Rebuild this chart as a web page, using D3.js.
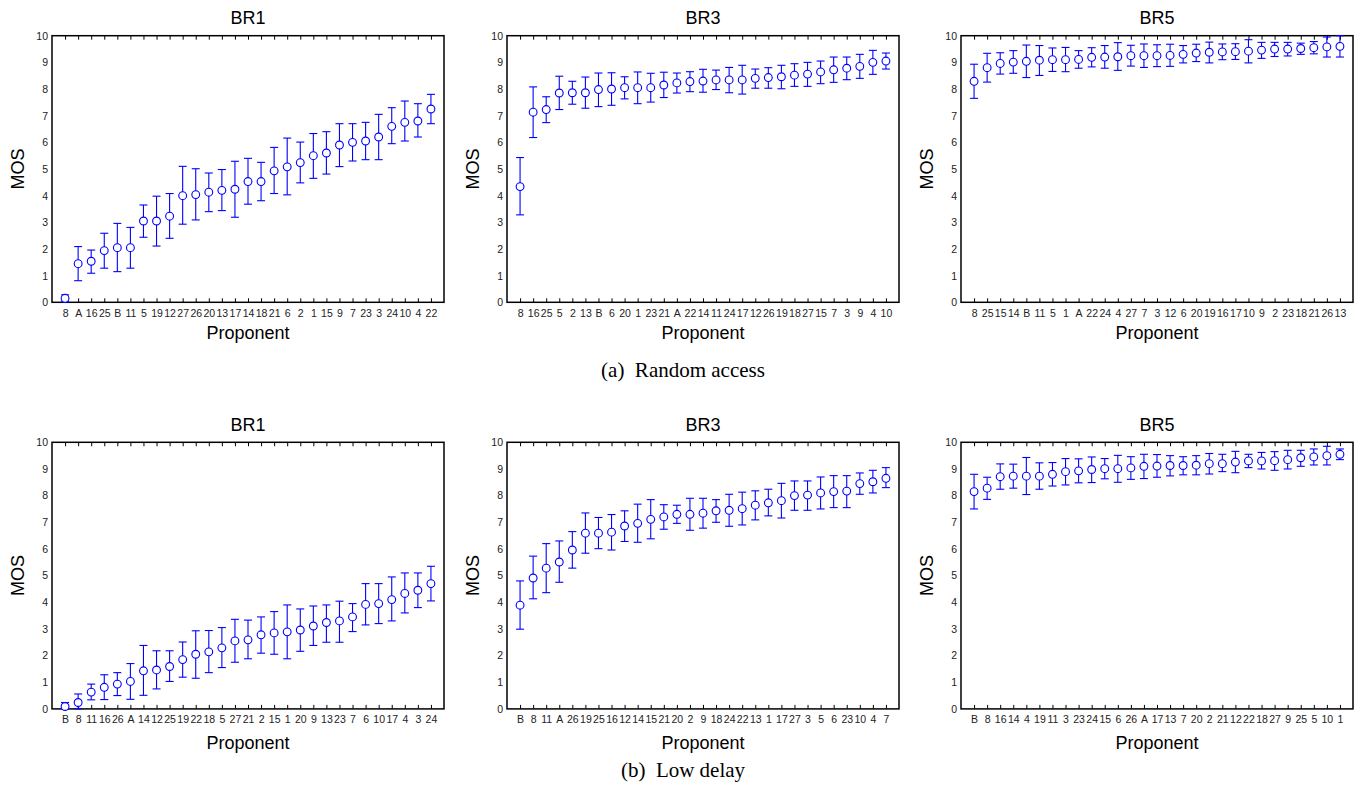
<!DOCTYPE html>
<html>
<head>
<meta charset="utf-8">
<script src="https://cdn.jsdelivr.net/npm/d3@7"></script>
<style>
  body { margin: 0; background: #fff; }
  svg { display: block; }
  .tick text { font-family: "Liberation Sans", Arial, sans-serif; font-size: 10.5px; fill: #222; }
  .labelText { font-family: "Liberation Sans", Arial, sans-serif; font-size: 18px; fill: #000; }
  .caption { font-family: "Liberation Serif", "Times New Roman", serif; font-size: 21px; fill: #000; white-space: pre; }
</style>
</head>
<body>
<svg id="svg_mos" width="1361" height="788"></svg>
<script>
// (a) Random access
const raBR1Labels = ['8','A','16','25','B','11','5','19','12','27','26','20','13','17','14','18','21','6','2','1','15','9','7','23','3','24','10','4','22'];
const raBR1Mos = [0.15,1.45,1.54,1.94,2.05,2.05,3.05,3.05,3.23,4.0,4.04,4.13,4.2,4.24,4.53,4.53,4.93,5.08,5.24,5.5,5.6,5.9,6.0,6.05,6.2,6.6,6.75,6.8,7.25];
const raBR1Hi = [0.28,2.09,1.96,2.59,2.96,2.81,3.65,3.98,4.08,5.1,5.01,4.85,4.98,5.29,5.4,5.25,5.81,6.16,6.01,6.33,6.4,6.7,6.7,6.75,7.05,7.3,7.55,7.45,7.8];
const raBR1Lo = [0.02,0.81,1.09,1.28,1.15,1.28,2.44,2.11,2.4,2.93,3.09,3.4,3.44,3.19,3.68,3.81,4.08,4.03,4.48,4.65,4.81,5.09,5.3,5.35,5.35,5.95,6.05,6.2,6.7];

const raBR3Labels = ['8','16','25','5','2','13','B','6','20','1','23','21','A','22','14','11','24','17','12','26','19','18','27','15','7','3','9','4','10'];
const raBR3Mos = [4.34,7.13,7.23,7.85,7.86,7.86,7.98,8.0,8.05,8.05,8.05,8.15,8.23,8.28,8.3,8.34,8.34,8.34,8.4,8.43,8.46,8.52,8.56,8.64,8.72,8.78,8.85,9.0,9.05];
const raBR3Hi = [5.43,8.08,7.71,8.48,8.29,8.45,8.6,8.61,8.46,8.64,8.59,8.63,8.6,8.65,8.74,8.71,8.81,8.89,8.75,8.8,8.89,8.95,9.0,9.05,9.2,9.2,9.3,9.45,9.35];
const raBR3Lo = [3.28,6.18,6.74,7.23,7.43,7.28,7.34,7.39,7.63,7.45,7.51,7.68,7.85,7.9,7.88,7.98,7.86,7.81,8.03,8.03,8.01,8.1,8.1,8.2,8.25,8.35,8.4,8.55,8.75];

const raBR5Labels = ['8','25','15','14','B','11','5','1','A','22','24','4','27','7','3','12','6','20','19','16','17','10','9','2','23','18','21','26','13'];
const raBR5Mos = [8.29,8.8,8.96,9.01,9.04,9.08,9.1,9.1,9.11,9.19,9.2,9.21,9.25,9.25,9.25,9.26,9.3,9.35,9.38,9.39,9.4,9.42,9.46,9.5,9.5,9.52,9.55,9.58,9.6];
const raBR5Hi = [8.93,9.34,9.36,9.44,9.65,9.63,9.54,9.56,9.44,9.55,9.63,9.74,9.64,9.69,9.66,9.68,9.63,9.68,9.76,9.69,9.7,9.85,9.75,9.75,9.75,9.72,9.78,9.95,10.0];
const raBR5Lo = [7.65,8.26,8.56,8.59,8.43,8.51,8.66,8.65,8.78,8.83,8.78,8.7,8.86,8.81,8.84,8.85,8.98,9.03,8.98,9.1,9.11,8.98,9.15,9.22,9.24,9.3,9.32,9.2,9.2];

// (b) Low delay
const ldBR1Labels = ['B','8','11','16','26','A','14','12','25','19','22','18','5','27','21','2','15','1','20','9','13','23','7','6','10','17','4','3','24'];
const ldBR1Mos = [0.09,0.24,0.63,0.81,0.93,1.03,1.43,1.46,1.59,1.85,2.05,2.14,2.29,2.55,2.59,2.78,2.85,2.89,2.96,3.11,3.24,3.3,3.45,3.92,3.95,4.1,4.33,4.45,4.7];
const ldBR1Hi = [0.24,0.56,0.93,1.28,1.36,1.7,2.38,2.18,2.18,2.51,2.93,2.94,3.05,3.36,3.33,3.45,3.65,3.9,3.75,3.86,3.9,4.04,3.95,4.7,4.7,4.95,5.1,5.1,5.35];
const ldBR1Lo = [0,0,0.34,0.35,0.5,0.36,0.51,0.75,1.03,1.19,1.15,1.36,1.55,1.75,1.88,2.09,2.05,1.88,2.16,2.38,2.5,2.5,2.9,3.15,3.2,3.3,3.6,3.8,4.05];

const ldBR3Labels = ['B','8','11','A','26','19','25','16','12','14','15','21','20','2','9','18','24','22','13','1','17','27','3','5','6','23','10','4','7'];
const ldBR3Mos = [3.89,4.91,5.28,5.51,5.96,6.59,6.59,6.63,6.86,6.96,7.11,7.2,7.3,7.3,7.34,7.43,7.45,7.51,7.64,7.73,7.81,8.0,8.02,8.1,8.15,8.17,8.45,8.52,8.65];
const ldBR3Hi = [4.8,5.73,6.2,6.3,6.65,7.35,7.18,7.29,7.43,7.68,7.85,7.66,7.64,7.9,7.9,7.85,8.05,8.13,8.18,8.24,8.46,8.55,8.55,8.7,8.75,8.75,8.85,8.95,9.05];
const ldBR3Lo = [2.99,4.13,4.36,4.75,5.28,5.84,6.01,5.96,6.28,6.25,6.38,6.74,6.96,6.7,6.78,7.0,6.85,6.9,7.09,7.24,7.16,7.45,7.45,7.5,7.55,7.55,8.05,8.1,8.3];

const ldBR5Labels = ['B','8','16','14','4','19','11','3','23','24','15','6','26','A','17','13','7','20','2','21','12','22','18','27','9','25','5','10','1'];
const ldBR5Mos = [8.15,8.28,8.71,8.73,8.73,8.73,8.8,8.9,8.93,8.98,9.01,9.01,9.04,9.1,9.11,9.13,9.13,9.14,9.2,9.2,9.26,9.3,9.3,9.31,9.35,9.42,9.45,9.5,9.55];
const ldBR5Hi = [8.8,8.69,9.19,9.18,9.43,9.23,9.24,9.39,9.38,9.45,9.39,9.51,9.46,9.55,9.54,9.5,9.46,9.5,9.58,9.55,9.66,9.55,9.62,9.65,9.7,9.7,9.75,9.85,9.75];
const ldBR5Lo = [7.5,7.86,8.24,8.28,8.04,8.24,8.36,8.4,8.48,8.49,8.63,8.5,8.61,8.64,8.69,8.74,8.78,8.78,8.81,8.9,8.86,9.05,9.0,8.95,9.0,9.1,9.15,9.15,9.35];

const yTicks = [0,1,2,3,4,5,6,7,8,9,10];
const titles = ['BR1', 'BR3', 'BR5'];
const captions = ['(a)  Random access', '(b)  Low delay'];

const panels = [
  { row: 0, col: 0, labels: raBR1Labels, mos: raBR1Mos, hi: raBR1Hi, lo: raBR1Lo },
  { row: 0, col: 1, labels: raBR3Labels, mos: raBR3Mos, hi: raBR3Hi, lo: raBR3Lo },
  { row: 0, col: 2, labels: raBR5Labels, mos: raBR5Mos, hi: raBR5Hi, lo: raBR5Lo },
  { row: 1, col: 0, labels: ldBR1Labels, mos: ldBR1Mos, hi: ldBR1Hi, lo: ldBR1Lo },
  { row: 1, col: 1, labels: ldBR3Labels, mos: ldBR3Mos, hi: ldBR3Hi, lo: ldBR3Lo },
  { row: 1, col: 2, labels: ldBR5Labels, mos: ldBR5Mos, hi: ldBR5Hi, lo: ldBR5Lo },
];

// layout
const plotW = 392;
const plotH = 266.6;
const lefts = [52, 507, 961];
const tops = [35.7, 442.3];
const xlabelOffset = [37, 40];
const captionY = [377, 777];
const blue = '#0000ff';

const svg = d3.select('#svg_mos');

panels.forEach((p) => {
  const g = svg.append('g')
    .attr('transform', `translate(${lefts[p.col]}, ${tops[p.row]})`);

  const xscale = d3.scalePoint()
    .domain(d3.range(p.labels.length))
    .range([0, plotW])
    .padding(1);

  const yscale = d3.scaleLinear()
    .domain([0, 10])
    .range([plotH, 0]);

  // bottom axis, ticks pointing in
  const bottomAxis = d3.axisBottom(xscale)
    .tickSize(-4)
    .tickPadding(7)
    .tickFormat((i) => p.labels[i]);

  g.append('g')
    .attr('transform', `translate(0, ${plotH})`)
    .call(bottomAxis)
    .call((a) => a.select('.domain').remove());

  // top axis, ticks only
  g.append('g')
    .call(d3.axisTop(xscale).tickSize(-4).tickFormat(''))
    .call((a) => a.select('.domain').remove());

  const leftAxis = d3.axisLeft(yscale)
    .tickValues(yTicks)
    .tickSize(0)
    .tickPadding(4);

  g.append('g')
    .call(leftAxis)
    .call((a) => a.select('.domain').remove());

  g.selectAll('.tick line').attr('stroke', '#000').attr('stroke-width', 1);

  // box
  g.append('rect')
    .attr('width', plotW)
    .attr('height', plotH)
    .attr('fill', 'none')
    .attr('stroke', '#000')
    .attr('stroke-width', 1.5);

  const idx = d3.range(p.labels.length);

  // error bars
  const bars = g.append('g')
    .attr('stroke', blue)
    .attr('stroke-width', 1.1)
    .selectAll('g')
    .data(idx)
    .enter()
    .append('g');

  bars.append('line')
    .attr('x1', (i) => xscale(i))
    .attr('x2', (i) => xscale(i))
    .attr('y1', (i) => yscale(p.hi[i]))
    .attr('y2', (i) => yscale(p.lo[i]));

  bars.append('line')
    .attr('x1', (i) => xscale(i) - 4)
    .attr('x2', (i) => xscale(i) + 4)
    .attr('y1', (i) => yscale(p.hi[i]))
    .attr('y2', (i) => yscale(p.hi[i]));

  bars.append('line')
    .attr('x1', (i) => xscale(i) - 4)
    .attr('x2', (i) => xscale(i) + 4)
    .attr('y1', (i) => yscale(p.lo[i]))
    .attr('y2', (i) => yscale(p.lo[i]));

  g.append('g')
    .selectAll('circle')
    .data(idx)
    .enter()
    .append('circle')
    .attr('cx', (i) => xscale(i))
    .attr('cy', (i) => yscale(p.mos[i]))
    .attr('r', 3.9)
    .attr('fill', '#fff')
    .attr('stroke', blue)
    .attr('stroke-width', 1.1);

  // title
  g.append('text')
    .text(titles[p.col])
    .attr('x', plotW / 2)
    .attr('y', -11.5)
    .attr('text-anchor', 'middle')
    .attr('class', 'labelText');

  g.append('text')
    .text('Proponent')
    .attr('x', plotW / 2)
    .attr('y', plotH + xlabelOffset[p.row])
    .attr('text-anchor', 'middle')
    .attr('class', 'labelText');

  g.append('text')
    .text('MOS')
    .attr('transform', `translate(-28, ${plotH / 2}) rotate(-90)`)
    .attr('text-anchor', 'middle')
    .attr('class', 'labelText');
});

captions.forEach((c, i) => {
  svg.append('text')
    .text(c)
    .attr('x', 683)
    .attr('y', captionY[i])
    .attr('text-anchor', 'middle')
    .attr('class', 'caption');
});
</script>
</body>
</html>
